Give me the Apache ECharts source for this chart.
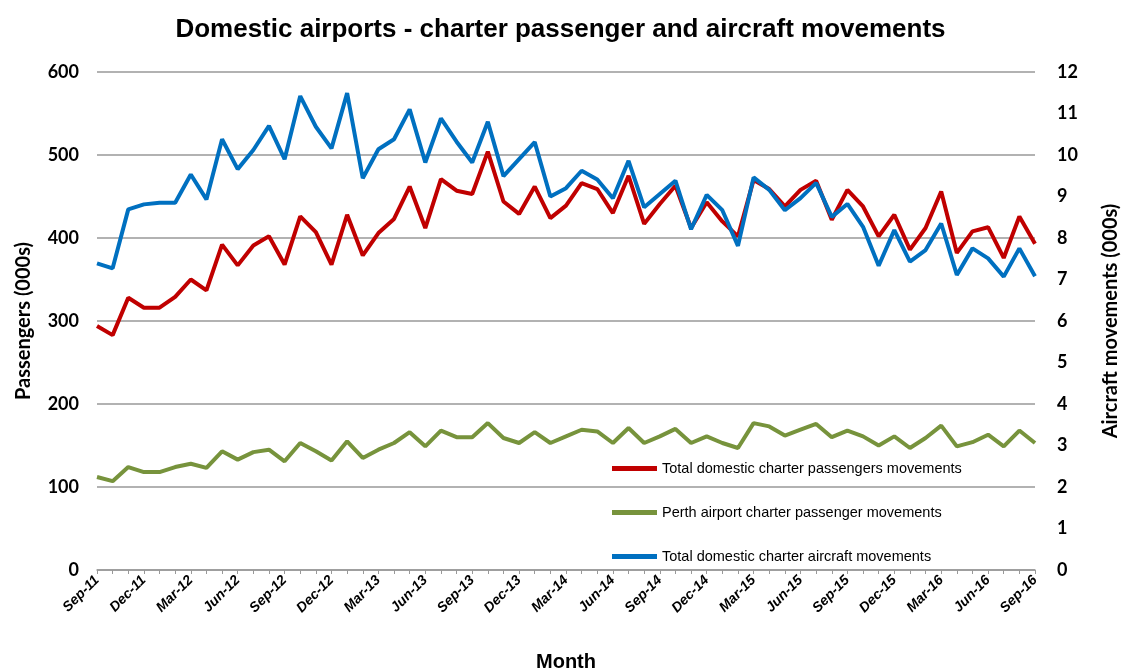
<!DOCTYPE html>
<html>
<head>
<meta charset="utf-8">
<script src="https://cdn.jsdelivr.net/npm/echarts@6/dist/echarts.min.js"></script>
<style>
  html, body { margin: 0; padding: 0; background: #fff; }
  #chart { width: 1121px; height: 670px; }
</style>
</head>
<body>
<div id="chart"></div>
<script>
// months Sep-11 .. Sep-16
const months = [
  "Sep-11", "Oct-11", "Nov-11", "Dec-11", "Jan-12", "Feb-12", "Mar-12", "Apr-12", "May-12", "Jun-12", "Jul-12", "Aug-12",
  "Sep-12", "Oct-12", "Nov-12", "Dec-12", "Jan-13", "Feb-13", "Mar-13", "Apr-13", "May-13", "Jun-13", "Jul-13", "Aug-13",
  "Sep-13", "Oct-13", "Nov-13", "Dec-13", "Jan-14", "Feb-14", "Mar-14", "Apr-14", "May-14", "Jun-14", "Jul-14", "Aug-14",
  "Sep-14", "Oct-14", "Nov-14", "Dec-14", "Jan-15", "Feb-15", "Mar-15", "Apr-15", "May-15", "Jun-15", "Jul-15", "Aug-15",
  "Sep-15", "Oct-15", "Nov-15", "Dec-15", "Jan-16", "Feb-16", "Mar-16", "Apr-16", "May-16", "Jun-16", "Jul-16", "Aug-16",
  "Sep-16"
];

// passengers (000s), left axis
const totalPassengers = [
  294, 283, 328, 316, 316, 329, 350, 337, 392, 367, 391, 402,
  368, 426, 407, 368, 428, 379, 406, 423, 462, 412, 471, 457,
  453, 504, 444, 429, 462, 424, 439, 466, 459, 430, 475, 417,
  441, 463, 412, 443, 420, 402, 470, 459, 438, 458, 469, 422,
  458, 438, 402, 428, 386, 412, 456, 382, 408, 413, 376, 426,
  393
];

const perthPassengers = [
  112, 107, 124, 118, 118, 124, 128, 123, 143, 133, 142, 145,
  131, 153, 143, 132, 155, 135, 145, 153, 166, 149, 168, 160,
  160, 177, 159, 153, 166, 153, 161, 169, 167, 153, 171, 153,
  161, 170, 153, 161, 153, 147, 177, 173, 162, 169, 176, 160,
  168, 161, 150, 161, 147, 159, 174, 149, 154, 163, 149, 168,
  153
];

// aircraft movements (000s), right axis
const aircraftMovements = [
  7.39, 7.27, 8.69, 8.81, 8.85, 8.85, 9.53, 8.93, 10.38, 9.66, 10.12, 10.70,
  9.90, 11.42, 10.68, 10.16, 11.49, 9.44, 10.14, 10.38, 11.10, 9.82, 10.88, 10.32,
  9.82, 10.80, 9.49, 9.90, 10.31, 9.00, 9.20, 9.62, 9.41, 8.96, 9.86, 8.74,
  9.06, 9.38, 8.21, 9.04, 8.67, 7.81, 9.46, 9.16, 8.67, 8.96, 9.33, 8.51,
  8.82, 8.27, 7.33, 8.19, 7.43, 7.71, 8.35, 7.11, 7.75, 7.51, 7.07, 7.75,
  7.08
];

const seriesNames = [
  "Total domestic charter passengers movements",
  "Perth airport charter passenger movements",
  "Total domestic charter aircraft movements"
];

const chart = echarts.init(document.getElementById("chart"));

const axisLabelFont = {
  fontFamily: "Lato",
  fontWeight: "bold",
  fontSize: 18,
  color: "#000"
};

const option = {
  animation: false,
  color: ["#C00000", "#77933C", "#0070C0"],
  title: {
    text: "Domestic airports - charter passenger and aircraft movements",
    left: "center",
    top: 12,
    textStyle: {
      fontFamily: "Liberation Sans",
      fontWeight: "bold",
      fontSize: 26,
      color: "#000"
    }
  },
  grid: {
    left: 97,
    right: 86,
    top: 72,
    bottom: 100,
    outerBoundsMode: "none"
  },
  legend: {
    orient: "vertical",
    left: 612,
    top: 461,
    padding: 0,
    itemGap: 29,
    itemWidth: 45,
    itemHeight: 5,
    icon: "rect",
    textStyle: {
      fontFamily: "Liberation Sans",
      fontSize: 14.5,
      color: "#000"
    },
    data: seriesNames
  },
  xAxis: {
    type: "category",
    data: months,
    boundaryGap: false,
    name: "Month",
    nameLocation: "middle",
    nameGap: 82,
    nameTextStyle: {
      fontFamily: "Liberation Sans",
      fontWeight: "bold",
      fontSize: 20,
      color: "#000"
    },
    axisLine: { lineStyle: { color: "#999", width: 1.5 } },
    axisTick: {
      interval: 0,
      length: 4,
      lineStyle: { color: "#999" }
    },
    axisLabel: {
      interval: 2,
      rotate: 45,
      margin: 8,
      fontFamily: "Liberation Sans",
      fontWeight: "bold",
      fontStyle: "italic",
      fontSize: 14,
      color: "#000"
    },
    splitLine: { show: false }
  },
  yAxis: [
    {
      type: "value",
      min: 0,
      max: 600,
      interval: 100,
      name: "Passengers (000s)",
      nameLocation: "middle",
      nameGap: 63,
      nameTextStyle: Object.assign({}, axisLabelFont, { fontSize: 20 }),
      axisLine: { show: false },
      axisTick: { show: false },
      axisLabel: Object.assign({ margin: 18 }, axisLabelFont),
      splitLine: { lineStyle: { color: "#999", width: 1.5 } }
    },
    {
      type: "value",
      min: 0,
      max: 12,
      interval: 1,
      name: "Aircraft movements (000s)",
      nameLocation: "middle",
      nameGap: 66,
      nameTextStyle: Object.assign({}, axisLabelFont, { fontSize: 20 }),
      axisLine: { show: false },
      axisTick: { show: false },
      axisLabel: Object.assign({ margin: 22 }, axisLabelFont),
      splitLine: { show: false }
    }
  ],
  series: [
    {
      name: seriesNames[0],
      type: "line",
      yAxisIndex: 0,
      data: totalPassengers,
      showSymbol: false,
      lineStyle: { width: 4 },
      z: 3
    },
    {
      name: seriesNames[1],
      type: "line",
      yAxisIndex: 0,
      data: perthPassengers,
      showSymbol: false,
      lineStyle: { width: 4 },
      z: 3
    },
    {
      name: seriesNames[2],
      type: "line",
      yAxisIndex: 1,
      data: aircraftMovements,
      showSymbol: false,
      lineStyle: { width: 4 },
      z: 4
    }
  ]
};

chart.setOption(option);
</script>
</body>
</html>
